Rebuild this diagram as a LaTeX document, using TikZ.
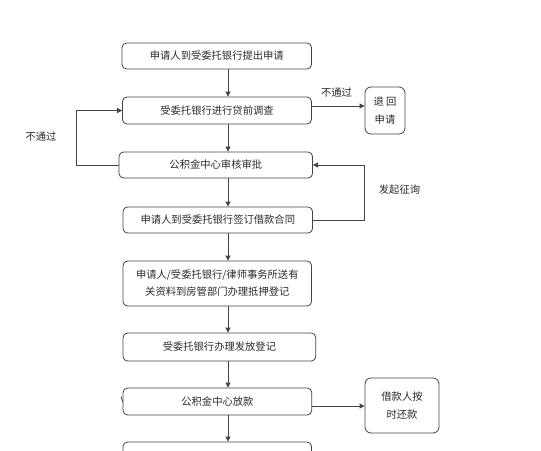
\documentclass[tikz,border=0pt]{standalone}
\usepackage{fontspec}
\setmainfont{Noto Sans CJK SC}
\usetikzlibrary{arrows.meta}
\definecolor{linec}{HTML}{444444}
\definecolor{textc}{HTML}{2a2a2a}
\begin{document}
\begin{tikzpicture}[x=1pt,y=-1pt,
  box/.style={draw=linec, line width=0.8pt, rounded corners=4.5pt, inner sep=0pt, align=center, text=textc, font=\fontsize{10.3}{17}\selectfont},
  sidebox/.style={box, rounded corners=6pt, font=\fontsize{10.3}{18}\selectfont},
  arr/.style={draw=linec, line width=0.8pt, -{Triangle[length=5pt,width=5pt]}},
  lbl/.style={text=textc, font=\fontsize{10.3}{12}\selectfont, inner sep=0pt}]
\useasboundingbox (0,0) rectangle (541,450);
\clip (0,0) rectangle (541,450);
\fill[white] (0,0) rectangle (541,450);
\coordinate (ax) at (228,0);
\node[box, minimum width=189.5pt, minimum height=26pt] (b1) at (216.8,56) {申请人到受委托银行提出申请};
\node[box, minimum width=189pt, minimum height=27pt] (b2) at (217,110.5) {受委托银行进行贷前调查};
\node[box, minimum width=193.5pt, minimum height=26pt] (b3) at (215.8,165) {公积金中心审核审批};
\node[box, minimum width=189.5pt, minimum height=26pt] (b4) at (217.8,220) {申请人到受委托银行签订借款合同};
\node[box, minimum width=188.5pt, minimum height=45pt] (b5) at (217.3,283.5) {申请人/受委托银行/律师事务所送有\\关资料到房管部门办理抵押登记};
\node[box, minimum width=192.7pt, minimum height=28pt] (b6) at (219.4,347) {受委托银行办理发放登记};
\node[box, minimum width=188.7pt, minimum height=27pt] (b7) at (217.4,401.5) {公积金中心放款};
\node[box, minimum width=188.5pt, minimum height=30pt] (b8) at (217.3,457) {};
\node[sidebox, minimum width=40pt, minimum height=47pt] (rej) at (385,110.5) {退 回\\申请};
\node[sidebox, minimum width=74pt, minimum height=55pt] (pay) at (402,405.5) {借款人按\\时还款};
\draw[arr] (b1.south -| ax) -- (b2.north -| ax);
\draw[arr] (b2.south -| ax) -- (b3.north -| ax);
\draw[arr] (b3.south -| ax) -- (b4.north -| ax);
\draw[arr] (b4.south -| ax) -- (b5.north -| ax);
\draw[arr] (b5.south -| ax) -- (b6.north -| ax);
\draw[arr] (b6.south -| ax) -- (b7.north -| ax);
\draw[arr] (b7.south -| ax) -- (b8.north -| ax);
\coordinate (r1) at (0,106);
\draw[arr] (b2.east |- r1) -- (rej.west |- r1);
\node[lbl] (l1) at (336.5,93) {不通过};
\coordinate (r2) at (0,406);
\draw[arr] (b7.east |- r2) -- (pay.west |- r2);
\coordinate (lx) at (76,0);
\draw[arr] (b3.west) -- (b3.west -| lx) |- (b2.west);
\node[lbl] (l2) at (41,137) {不通过};
\coordinate (rx) at (364,0);
\draw[arr] (b4.east) -- (b4.east -| rx) |- (b3.east);
\node[lbl] (l3) at (399.5,190) {发起征询};
\draw[linec, line width=0.8pt] (121,396.5) -- (122.8,402);
\end{tikzpicture}
\end{document}
